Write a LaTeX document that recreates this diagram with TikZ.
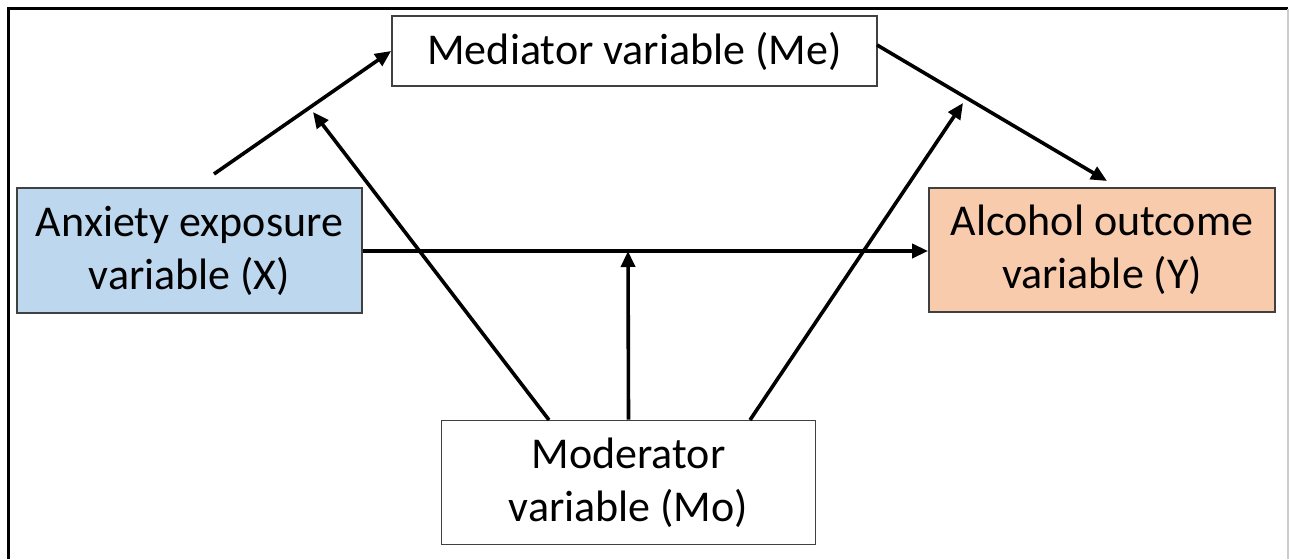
\documentclass[tikz,border=0pt]{standalone}
\usepackage{fontspec}
\setmainfont{Carlito}
\usetikzlibrary{arrows.meta}
\definecolor{xblue}{HTML}{BDD7EE}
\definecolor{yorange}{HTML}{F8CBAD}
\definecolor{boxline}{HTML}{404040}
\begin{document}
\begin{tikzpicture}[x=1pt,y=-1pt,
  varbox/.style={draw=boxline,line width=1.8pt,rectangle,inner sep=0pt,align=center,
    font=\fontsize{44}{53}\selectfont},
  arr/.style={line width=3.6pt,-{Triangle[length=16pt,width=14pt]}}]
\useasboundingbox (0,0) rectangle (1289,559);
% outer frame
\draw[line width=3pt] (8,559) -- (8,9) -- (1288,9);
\draw[line width=1.2pt,gray!40] (1288,9) -- (1288,559);
% boxes
\node[varbox,minimum width=485pt,minimum height=70pt] (Me) at (634.5,51) {Mediator variable (Me)};
\node[varbox,fill=xblue,minimum width=345pt,minimum height=125pt] (X) at (189.5,250.5) {Anxiety exposure\\variable (X)};
\node[varbox,fill=yorange,minimum width=346pt,minimum height=124pt] (Y) at (1102,250) {Alcohol outcome\\variable (Y)};
\node[varbox,minimum width=374pt,minimum height=124pt] (Mo) at (628.5,482.5) {Moderator\\variable (Mo)};
% coordinates
\coordinate (xs) at (214,174);
\coordinate (mes) at (877,45);
\coordinate (ye) at (1107,181);
\coordinate (xy) at (628,251);
\coordinate (moL) at (549,420);
\coordinate (moR) at (750,420);
\coordinate (tL) at (313,112);
\coordinate (tR) at (963,103);
% connectors
\draw[arr] (xs) -- (Me.west);
\draw[arr] (mes) -- (ye);
\draw[arr] (X.east |- xy) -- (Y.west |- xy);
\draw[arr] (Mo.north) -- (xy);
\draw[arr] (moL) -- (tL);
\draw[arr] (moR) -- (tR);
\end{tikzpicture}
\end{document}
